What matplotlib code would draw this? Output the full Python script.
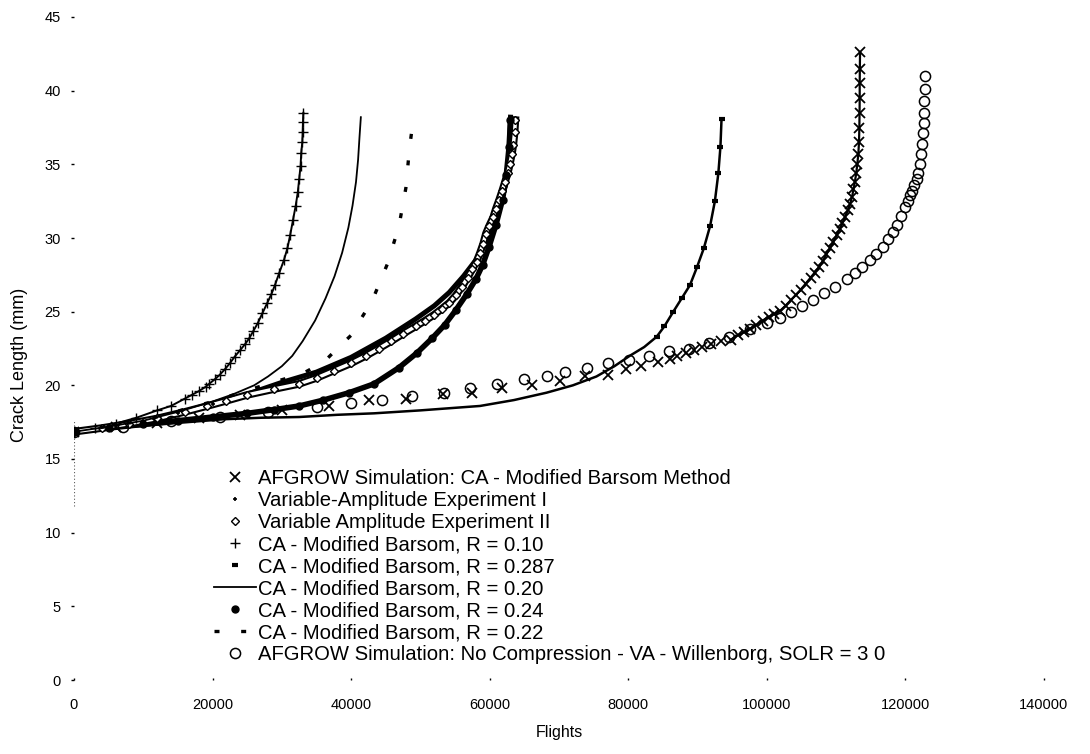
import matplotlib
matplotlib.use("Agg")
import matplotlib.pyplot as plt

plt.rcParams['font.family'] = ['Liberation Sans', 'DejaVu Sans']

# ---------------- data (flights, crack length mm) ----------------
afgrow_ca_x = [0, 6000, 12000, 18000, 24000, 30000, 36800, 42600, 47900, 53200, 57500,
               61800, 66100, 70200, 73700, 77100, 79700, 81900, 84300, 86000, 87100, 88300,
               89500, 90700, 91900, 93400,
               94800, 95800, 96700, 97600, 98500, 99400, 100300, 101100, 101900, 102700,
               103500, 104200, 104900, 105600, 106300, 106900, 107500, 108100, 108600,
               109100, 109600, 110100, 110500, 110900, 111300, 111700, 112000, 112300,
               112500, 112700, 112900, 113050, 113200, 113300, 113350, 113380, 113400,
               113400, 113420, 113450]
afgrow_ca_y = [16.85, 17.15, 17.45, 17.75, 18.0, 18.3, 18.6, 19.0, 19.1, 19.4, 19.5,
               19.8, 20.0, 20.3, 20.6, 20.7, 21.1, 21.3, 21.6, 21.8, 22.0, 22.2,
               22.4, 22.6, 22.8, 23.0,
               23.1, 23.4, 23.6, 23.85, 24.1, 24.4, 24.65, 24.85, 25.05, 25.4,
               25.8, 26.15, 26.5, 26.9, 27.3, 27.65, 28.0, 28.45, 28.9,
               29.3, 29.75, 30.2, 30.6, 31.0, 31.45, 31.9, 32.3, 32.8,
               33.3, 33.8, 34.4, 35.0, 35.7, 36.5, 37.5, 38.5, 39.5,
               40.5, 41.5, 42.6]

va_exp1_x = [0, 5000, 10000, 15000, 20000, 25000, 30000, 35000, 40000, 45000, 49300,
             52000, 54150, 56200, 58000, 59300, 60400, 61400, 62300, 62800, 63000]
va_exp1_y = [16.85, 17.2, 17.6, 18.1, 18.7, 19.4, 20.2, 20.9, 21.9, 23.2, 24.5,
             25.4, 26.3, 27.4, 28.5, 29.6, 30.8, 32.1, 33.6, 35.8, 38.2]

va_exp2_x = [0, 4000, 8000, 12000, 16000, 19250, 22000, 25000, 28900, 32500, 35000,
             37500, 40000, 42100, 44000, 45800, 47500, 49300, 50700, 52000, 53100,
             54150, 55100, 56000, 56800, 57500, 58100, 58600, 59050, 59450, 59900,
             60500, 60900, 61370, 61800, 62200, 62600, 62900, 63200, 63400, 63600, 63700]
va_exp2_y = [16.85, 17.1, 17.4, 17.75, 18.2, 18.6, 18.95, 19.35, 19.75, 20.1, 20.5,
             21.0, 21.5, 22.0, 22.5, 23.0, 23.5, 24.0, 24.4, 24.8, 25.2,
             25.6, 26.1, 26.7, 27.3, 27.9, 28.4, 29.0, 29.6, 30.3, 30.8,
             31.4, 32.0, 32.6, 33.2, 33.8, 34.4, 35.0, 35.7, 36.3, 37.2, 38.0]

r010_x = [0, 3000, 6000, 9000, 12000, 14000, 16000, 17000, 18000, 19000, 19500, 20300,
          21000, 21800, 22500, 23200, 24000, 24700, 25300, 25900, 26500, 27200, 27900,
          28500, 29000, 29600, 30300, 30800, 31200, 31600, 32000, 32300, 32500, 32700,
          32800, 32950, 33000, 33050, 33100]
r010_y = [16.85, 17.1, 17.4, 17.8, 18.3, 18.6, 19.1, 19.35, 19.6, 19.9, 20.1, 20.4,
          20.7, 21.1, 21.5, 21.95, 22.4, 22.8, 23.2, 23.7, 24.2, 24.9, 25.6,
          26.2, 26.8, 27.6, 28.5, 29.3, 30.2, 31.2, 32.2, 33.1, 34.0, 34.9,
          35.8, 36.5, 37.2, 37.9, 38.5]

r0287_x = [0, 5000, 10000, 15000, 21660, 27000, 32500, 38000, 43300, 50000, 58600, 63500,
           68200, 72000, 75400, 78000, 80200, 82300, 84100, 85200, 86500, 87700, 88900,
           89900, 90900, 91800, 92500, 93000, 93300, 93460]
r0287_y = [16.85, 17.05, 17.25, 17.45, 17.7, 17.8, 17.85, 18.0, 18.1, 18.3, 18.6, 19.0,
           19.5, 20.0, 20.6, 21.3, 22.0, 22.6, 23.3, 24.0, 25.0, 25.9, 26.8,
           28.0, 29.3, 30.8, 32.5, 34.4, 36.2, 38.1]

r020_x = [0, 5000, 10000, 15000, 20000, 23000, 26000, 28000, 30000, 31500, 33000, 34800,
          36300, 37600, 38700, 39600, 40200, 40700, 41000, 41200, 41400]
r020_y = [16.85, 17.2, 17.6, 18.2, 18.9, 19.4, 20.0, 20.6, 21.3, 22.0, 23.0, 24.4,
          25.9, 27.4, 29.0, 30.7, 32.2, 33.8, 35.3, 36.8, 38.2]

r024_x = [0, 5000, 10000, 15000, 20000, 25000, 28900, 32500, 36000, 39700, 43300, 46900,
          49500, 51700, 53500, 55100, 56700, 58000, 59000, 59900, 60900, 61850, 62400,
          62800, 63000]
r024_y = [16.85, 17.1, 17.35, 17.6, 17.85, 18.1, 18.35, 18.6, 19.0, 19.5, 20.1, 21.2,
          22.2, 23.2, 24.1, 25.1, 26.2, 27.2, 28.2, 29.4, 30.9, 32.6, 34.3,
          36.2, 38.0]

r022_x = [0, 10000, 20000, 28000, 33000, 36100, 38000, 40000, 41400, 43000, 45200, 46900,
          47900, 48400, 48760]
r022_y = [16.85, 17.6, 18.9, 20.1, 20.8, 21.6, 22.5, 23.4, 24.5, 25.7, 28.2, 30.8,
          33.4, 36.0, 37.3]

afgrow_will_x = [0, 7000, 14000, 21000, 28000, 35000, 40000, 44500, 48800, 53400, 57200,
                 61000, 64900, 68200, 70800, 74000, 77000, 80100, 83000, 85900, 88800,
                 91700, 94600, 97500, 100000,
                 101900, 103500, 105100, 106700, 108300, 109900, 111500, 112700, 113800,
                 114900, 115800, 116700, 117500, 118200, 118800, 119400, 119900, 120300,
                 120700, 121000, 121300, 121600, 121850, 122100, 122300, 122450, 122550,
                 122650, 122700, 122750, 122780, 122800]
afgrow_will_y = [16.85, 17.2, 17.55, 17.85, 18.2, 18.5, 18.8, 19.0, 19.25, 19.5, 19.8,
                 20.1, 20.4, 20.6, 20.9, 21.2, 21.5, 21.7, 22.0, 22.3, 22.5,
                 22.9, 23.3, 23.8, 24.2,
                 24.6, 25.0, 25.4, 25.8, 26.3, 26.7, 27.2, 27.6, 28.0,
                 28.5, 28.9, 29.4, 29.9, 30.4, 30.9, 31.5, 32.1, 32.5,
                 32.9, 33.2, 33.6, 34.0, 34.4, 35.0, 35.7, 36.4, 37.1,
                 37.8, 38.5, 39.3, 40.1, 41.0]

x_ticks = [0, 20000, 40000, 60000, 80000, 100000, 120000, 140000]
y_ticks = [0, 5, 10, 15, 20, 25, 30, 35, 40, 45]

labels = ["AFGROW Simulation: CA - Modified Barsom Method",
          "Variable-Amplitude Experiment I",
          "Variable Amplitude Experiment II",
          "CA - Modified Barsom, R = 0.10",
          "CA - Modified Barsom, R = 0.287",
          "CA - Modified Barsom, R = 0.20",
          "CA - Modified Barsom, R = 0.24",
          "CA - Modified Barsom, R = 0.22",
          "AFGROW Simulation: No Compression - VA - Willenborg, SOLR = 3 0"]

# ---------------- figure ----------------
W, H = 1090, 754
fig = plt.figure(figsize=(W / 100, H / 100), dpi=100)
x0_px, x1_px = 74, 1044
y0_px, y1_px = 680, 17
ax = fig.add_axes([x0_px / W, 1 - y0_px / H, (x1_px - x0_px) / W, (y0_px - y1_px) / H])
ax.set_xlim(0, 140000)
ax.set_ylim(0, 45)
for s in ax.spines.values():
    s.set_visible(False)

k = 'black'
# underlying lines for dense series
ax.plot(r0287_x, r0287_y, color=k, lw=1.8, zorder=2)
ax.plot(va_exp1_x, va_exp1_y, color=k, lw=3.6, zorder=2)
ax.plot(r024_x, r024_y, color=k, lw=4.0, zorder=2)
ax.plot(r010_x, r010_y, color=k, lw=1.4, zorder=2)
ax.plot(va_exp2_x, va_exp2_y, color=k, lw=5.5, zorder=2)
ax.plot(va_exp2_x, va_exp2_y, color='white', lw=2.5, zorder=2.1)
ax.plot(afgrow_ca_x[26:], afgrow_ca_y[26:], color=k, lw=1.6, zorder=2)

h_ca, = ax.plot(afgrow_ca_x, afgrow_ca_y, ls='none', marker='x', ms=7.5, mew=1.3, color=k, zorder=3)
h_v1, = ax.plot(va_exp1_x, va_exp1_y, ls='none', marker='+', ms=3.5, mew=1.2, color=k, zorder=3)
h_v2, = ax.plot(va_exp2_x, va_exp2_y, ls='none', marker='D', ms=3.6, mew=1.0, mfc='white', color=k, zorder=3)
h_10, = ax.plot(r010_x, r010_y, ls='none', marker='+', ms=6.5, mew=1.0, color=k, zorder=3)
h_287, = ax.plot(r0287_x, r0287_y, ls='none', marker='_', ms=5, mew=3, color=k, zorder=3,
                 markevery=slice(18, None))
h_20, = ax.plot(r020_x, r020_y, ls='-', lw=1.3, color=k, zorder=3)
h_24, = ax.plot(r024_x, r024_y, ls='none', marker='o', ms=5, color=k, zorder=3)
h_22, = ax.plot(r022_x, r022_y, ls=(0, (1.5, 6.5)), lw=2.4, color=k, zorder=3)
h_will, = ax.plot(afgrow_will_x, afgrow_will_y, ls='none', marker='o', ms=7.3, mew=1.1,
                  mfc='none', color=k, zorder=3)

# faint dotted vertical axis fragment
ax.plot([0, 0], [11.8, 17.6], color='0.35', lw=0.8, ls=(0, (1, 2)), zorder=1)

ax.set_xticks(x_ticks)
ax.set_xticklabels([str(v) for v in x_ticks])
ax.set_yticks(y_ticks)
ax.set_yticklabels([str(v) for v in y_ticks])
ax.tick_params(axis='x', length=1.5, width=1, pad=13, labelsize=10.5, direction='in')
ax.tick_params(axis='y', length=2.5, width=1, pad=7, labelsize=10.5)

ax.set_xlabel("Flights", fontsize=11.5, labelpad=9)
ax.set_ylabel("Crack Length (mm)", fontsize=13)
ax.yaxis.set_label_coords(-0.047, 0.475)

handles = [h_ca, h_v1, h_v2, h_10, h_287, h_20, h_24, h_22, h_will]
leg = fig.legend(handles, labels, loc='upper left', bbox_to_anchor=(214 / W, 1 - 469 / H),
                 frameon=False, fontsize=14.6, handlelength=2.05, handletextpad=0.12,
                 labelspacing=0.15, borderpad=0, borderaxespad=0, numpoints=1)

fig.savefig("out.png", dpi=100)
